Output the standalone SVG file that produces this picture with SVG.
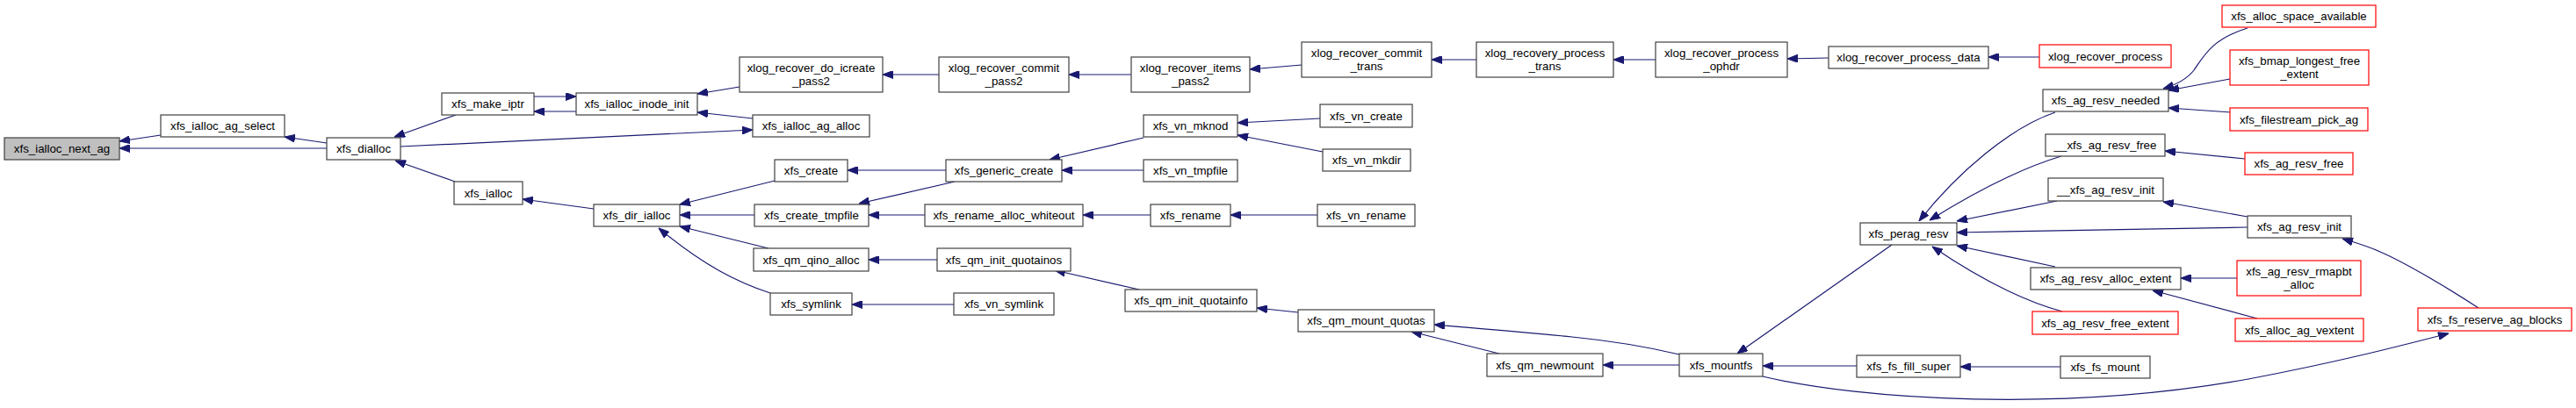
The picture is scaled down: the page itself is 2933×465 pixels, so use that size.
<svg xmlns="http://www.w3.org/2000/svg" width="2933" height="465" viewBox="0 0 2933 465">
<style>
.n rect{fill:#fff;stroke:#404040;stroke-width:1.2}
.n.r rect{stroke:#ff0000}
.n.g rect{fill:#bfbfbf}
.n text{font-family:"Liberation Sans",Arial,sans-serif;font-size:13.3px;fill:#000;text-anchor:middle}
.e path{fill:none;stroke:#191970;stroke-width:1.2;marker-end:url(#ah)}
</style>
<defs>
<marker id="ah" markerUnits="userSpaceOnUse" markerWidth="12" markerHeight="9" refX="12" refY="4.5" orient="auto">
<path d="M0,0 L12,4.5 L0,9 z" fill="#191970" stroke="#191970"/>
</marker>
</defs>
<rect width="2933" height="465" fill="#fff"/>
<g id="connectors" class="e">
<path d="M183,154 L136,161"/>
<path d="M372,169 L136,169"/>
<path d="M372,163 L324,156"/>
<path d="M519,131 L449,156"/>
<path d="M518,207 L450,183"/>
<path d="M608,110 L656,110"/>
<path d="M656,127 L608,127"/>
<path d="M456,167 L857,148"/>
<path d="M842,99 L794,107"/>
<path d="M857,135 L794,128"/>
<path d="M676,238 L595,227"/>
<path d="M882,206 L774,233"/>
<path d="M859,245 L774,245"/>
<path d="M875,283 L774,258"/>
<path d="M877,334 C840,322 800,302 750,260"/>
<path d="M1069,85 L1005,85"/>
<path d="M1077,194 L965,194"/>
<path d="M1087,207 L978,232"/>
<path d="M1053,245 L989,245"/>
<path d="M1067,296 L989,296"/>
<path d="M1086,347 L970,347"/>
<path d="M1288,85 L1217,85"/>
<path d="M1302,157 L1195,182"/>
<path d="M1302,194 L1209,194"/>
<path d="M1310,245 L1233,245"/>
<path d="M1297,330 L1201,308"/>
<path d="M1482,74 L1423,79"/>
<path d="M1503,135 L1409,140"/>
<path d="M1506,173 L1409,154"/>
<path d="M1500,245 L1401,245"/>
<path d="M1478,356 L1431,351"/>
<path d="M1681,68 L1630,68"/>
<path d="M1707,403 L1607,378"/>
<path d="M1912,404 C1870,394 1830,388 1790,384 C1740,379 1680,374 1633,370"/>
<path d="M1912,416 L1825,416"/>
<path d="M1885,68 L1837,68"/>
<path d="M2082,66 L2035,67"/>
<path d="M2154,279 L1978,403"/>
<path d="M2114,417 L2007,417"/>
<path d="M2007,429 C2120,456 2350,470 2560,432 C2660,413 2730,395 2788,380"/>
<path d="M2322,65 L2264,65"/>
<path d="M2346,418 L2232,418"/>
<path d="M2340,128 C2290,145 2230,195 2185,252"/>
<path d="M2347,178 C2300,192 2250,218 2197,251"/>
<path d="M2342,229 L2228,252"/>
<path d="M2559,259 L2228,265"/>
<path d="M2340,304 L2228,280"/>
<path d="M2348,355 C2300,342 2250,315 2200,281"/>
<path d="M2556,181 L2465,172"/>
<path d="M2559,247 L2463,230"/>
<path d="M2547,317 L2483,317"/>
<path d="M2570,363 L2451,331"/>
<path d="M2559,32 C2520,44 2510,62 2498,80 C2490,90 2480,96 2463,101"/>
<path d="M2539,90 L2469,103"/>
<path d="M2540,128 L2469,123"/>
<path d="M2822,351 C2790,330 2740,300 2710,287 C2695,280 2680,276 2667,272"/>
</g>
<g id="n0" class="n g"><rect x="5" y="157" width="131" height="25"/><text x="70.5" y="174">xfs_ialloc_next_ag</text></g>
<g id="n1" class="n"><rect x="183" y="131" width="141" height="25"/><text x="253.5" y="148">xfs_ialloc_ag_select</text></g>
<g id="n2" class="n"><rect x="372" y="157" width="84" height="25"/><text x="414" y="174">xfs_dialloc</text></g>
<g id="n3" class="n"><rect x="503" y="106" width="105" height="25"/><text x="555.5" y="123">xfs_make_iptr</text></g>
<g id="n4" class="n"><rect x="656" y="106" width="138" height="25"/><text x="725" y="123">xfs_ialloc_inode_init</text></g>
<g id="n5" class="n"><rect x="517" y="207" width="78" height="26"/><text x="556" y="224.5">xfs_ialloc</text></g>
<g id="n6" class="n"><rect x="676" y="233" width="98" height="25"/><text x="725" y="250">xfs_dir_ialloc</text></g>
<g id="n7" class="n"><rect x="842" y="65" width="163" height="40"/><text x="923.5" y="81.5">xlog_recover_do_icreate</text><text x="923.5" y="96.5">_pass2</text></g>
<g id="n8" class="n"><rect x="857" y="131" width="133" height="25"/><text x="923.5" y="148">xfs_ialloc_ag_alloc</text></g>
<g id="n9" class="n"><rect x="882" y="182" width="83" height="25"/><text x="923.5" y="199">xfs_create</text></g>
<g id="n10" class="n"><rect x="859" y="233" width="130" height="25"/><text x="924" y="250">xfs_create_tmpfile</text></g>
<g id="n11" class="n"><rect x="858" y="283" width="131" height="26"/><text x="923.5" y="300.5">xfs_qm_qino_alloc</text></g>
<g id="n12" class="n"><rect x="877" y="334" width="93" height="25"/><text x="923.5" y="351">xfs_symlink</text></g>
<g id="n13" class="n"><rect x="1069" y="65" width="148" height="40"/><text x="1143" y="81.5">xlog_recover_commit</text><text x="1143" y="96.5">_pass2</text></g>
<g id="n14" class="n"><rect x="1077" y="182" width="132" height="25"/><text x="1143" y="199">xfs_generic_create</text></g>
<g id="n15" class="n"><rect x="1053" y="233" width="180" height="25"/><text x="1143" y="250">xfs_rename_alloc_whiteout</text></g>
<g id="n16" class="n"><rect x="1067" y="283" width="152" height="26"/><text x="1143" y="300.5">xfs_qm_init_quotainos</text></g>
<g id="n17" class="n"><rect x="1086" y="334" width="114" height="25"/><text x="1143" y="351">xfs_vn_symlink</text></g>
<g id="n18" class="n"><rect x="1288" y="65" width="135" height="40"/><text x="1355.5" y="81.5">xlog_recover_items</text><text x="1355.5" y="96.5">_pass2</text></g>
<g id="n19" class="n"><rect x="1302" y="131" width="107" height="25"/><text x="1355.5" y="148">xfs_vn_mknod</text></g>
<g id="n20" class="n"><rect x="1302" y="182" width="107" height="25"/><text x="1355.5" y="199">xfs_vn_tmpfile</text></g>
<g id="n21" class="n"><rect x="1310" y="233" width="91" height="25"/><text x="1355.5" y="250">xfs_rename</text></g>
<g id="n22" class="n"><rect x="1281" y="330" width="150" height="25"/><text x="1356" y="347">xfs_qm_init_quotainfo</text></g>
<g id="n23" class="n"><rect x="1482" y="48" width="148" height="40"/><text x="1556" y="64.5">xlog_recover_commit</text><text x="1556" y="79.5">_trans</text></g>
<g id="n24" class="n"><rect x="1503" y="119" width="105" height="26"/><text x="1555.5" y="136.5">xfs_vn_create</text></g>
<g id="n25" class="n"><rect x="1506" y="170" width="100" height="25"/><text x="1556" y="187">xfs_vn_mkdir</text></g>
<g id="n26" class="n"><rect x="1500" y="233" width="111" height="25"/><text x="1555.5" y="250">xfs_vn_rename</text></g>
<g id="n27" class="n"><rect x="1478" y="353" width="155" height="25"/><text x="1555.5" y="370">xfs_qm_mount_quotas</text></g>
<g id="n28" class="n"><rect x="1693" y="403" width="132" height="26"/><text x="1759" y="420.5">xfs_qm_newmount</text></g>
<g id="n29" class="n"><rect x="1681" y="48" width="156" height="40"/><text x="1759" y="64.5">xlog_recovery_process</text><text x="1759" y="79.5">_trans</text></g>
<g id="n30" class="n"><rect x="1885" y="48" width="150" height="40"/><text x="1960" y="64.5">xlog_recover_process</text><text x="1960" y="79.5">_ophdr</text></g>
<g id="n31" class="n"><rect x="2082" y="53" width="182" height="25"/><text x="2173" y="70">xlog_recover_process_data</text></g>
<g id="n32" class="n"><rect x="1912" y="403" width="95" height="26"/><text x="1959.5" y="420.5">xfs_mountfs</text></g>
<g id="n33" class="n"><rect x="2118" y="254" width="110" height="25"/><text x="2173" y="271">xfs_perag_resv</text></g>
<g id="n34" class="n"><rect x="2114" y="405" width="118" height="25"/><text x="2173" y="422">xfs_fs_fill_super</text></g>
<g id="n35" class="n r"><rect x="2322" y="51" width="150" height="26"/><text x="2397" y="68.5">xlog_recover_process</text></g>
<g id="n36" class="n"><rect x="2326" y="102" width="143" height="25"/><text x="2397.5" y="119">xfs_ag_resv_needed</text></g>
<g id="n37" class="n"><rect x="2329" y="153" width="136" height="25"/><text x="2397" y="170">__xfs_ag_resv_free</text></g>
<g id="n38" class="n"><rect x="2332" y="203" width="131" height="26"/><text x="2397.5" y="220.5">__xfs_ag_resv_init</text></g>
<g id="n39" class="n"><rect x="2312" y="305" width="171" height="25"/><text x="2397.5" y="322">xfs_ag_resv_alloc_extent</text></g>
<g id="n40" class="n r"><rect x="2314" y="355" width="166" height="26"/><text x="2397" y="372.5">xfs_ag_resv_free_extent</text></g>
<g id="n41" class="n"><rect x="2346" y="406" width="102" height="25"/><text x="2397" y="423">xfs_fs_mount</text></g>
<g id="n42" class="n r"><rect x="2530" y="6" width="175" height="25"/><text x="2617.5" y="23">xfs_alloc_space_available</text></g>
<g id="n43" class="n r"><rect x="2539" y="57" width="158" height="40"/><text x="2618" y="73.5">xfs_bmap_longest_free</text><text x="2618" y="88.5">_extent</text></g>
<g id="n44" class="n r"><rect x="2539" y="123" width="157" height="26"/><text x="2617.5" y="140.5">xfs_filestream_pick_ag</text></g>
<g id="n45" class="n r"><rect x="2556" y="174" width="123" height="25"/><text x="2617.5" y="191">xfs_ag_resv_free</text></g>
<g id="n46" class="n"><rect x="2559" y="246" width="118" height="25"/><text x="2618" y="263">xfs_ag_resv_init</text></g>
<g id="n47" class="n r"><rect x="2547" y="297" width="141" height="40"/><text x="2617.5" y="313.5">xfs_ag_resv_rmapbt</text><text x="2617.5" y="328.5">_alloc</text></g>
<g id="n48" class="n r"><rect x="2545" y="363" width="146" height="26"/><text x="2618" y="380.5">xfs_alloc_ag_vextent</text></g>
<g id="n49" class="n r"><rect x="2753" y="351" width="175" height="26"/><text x="2840.5" y="368.5">xfs_fs_reserve_ag_blocks</text></g>
</svg>
